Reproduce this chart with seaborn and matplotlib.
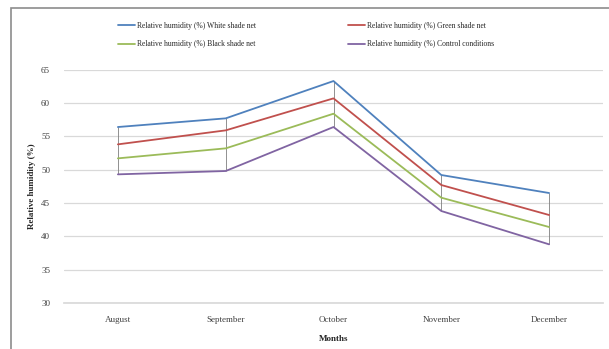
import matplotlib
matplotlib.use("Agg")
import matplotlib.pyplot as plt
import matplotlib.patches as mpatches
import seaborn as sns
import pandas as pd

# values
months = ["August", "September", "October", "November", "December"]
series_names = [
    "Relative humidity (%) White shade net",
    "Relative humidity (%) Green shade net",
    "Relative humidity (%) Black shade net",
    "Relative humidity (%) Control conditions",
]
white_net = [56.4, 57.7, 63.3, 49.2, 46.5]
green_net = [53.8, 55.9, 60.7, 47.7, 43.2]
black_net = [51.7, 53.2, 58.4, 45.8, 41.4]
control = [49.3, 49.8, 56.4, 43.8, 38.8]
y_ticks = [30, 35, 40, 45, 50, 55, 60, 65]
colors = ["#4F81BD", "#C0504D", "#9BBB59", "#8064A2"]


def main():
    sns.set_theme(style="white")
    plt.rcParams["font.family"] = ["Liberation Serif", "DejaVu Serif"]

    rows = []
    for name, vals in zip(series_names, [white_net, green_net, black_net, control]):
        for i, v in enumerate(vals):
            rows.append({"pos": i, "Month": months[i], "series": name, "value": v})
    df = pd.DataFrame(rows)

    fig = plt.figure(figsize=(6.09, 3.49), dpi=100)
    ax = fig.add_axes([64 / 609, 1 - 303 / 349, 539 / 609, (303 - 69.7) / 349])

    # high-low lines between the top and bottom series
    lows = df.groupby("pos")["value"].min()
    highs = df.groupby("pos")["value"].max()
    ax.vlines(lows.index, lows.values, highs.values, color="#7f7f7f", lw=0.6, zorder=2)

    sns.lineplot(data=df, x="pos", y="value", hue="series", hue_order=series_names,
                 palette=colors, lw=1.3, ax=ax, zorder=3)

    ax.set_xlim(-0.5, 4.5)
    ax.set_ylim(30, 65)
    ax.set_yticks(y_ticks)
    ax.set_yticklabels([str(t) for t in y_ticks], fontsize=6.5, color="#404040")
    ax.set_xticks(range(len(months)))
    ax.set_xticklabels(months, fontsize=6.5, color="#404040")
    ax.tick_params(axis="y", pad=10, length=0)
    ax.tick_params(axis="x", pad=9, length=0)
    ax.grid(axis="y", color="#d9d9d9", lw=0.9)
    for s in ["top", "right", "left"]:
        ax.spines[s].set_visible(False)
    ax.spines["bottom"].set_color("#d9d9d9")
    ax.set_xlabel("Months", fontsize=6.5, fontweight="bold", labelpad=8)
    ax.set_ylabel("Relative humidity (%)", fontsize=6.5, fontweight="bold", labelpad=4)

    # legend fills column-wise: reorder so rows read White/Green, Black/Control
    handles, labels = ax.get_legend_handles_labels()
    order = [0, 2, 1, 3]
    ax.legend([handles[i] for i in order], [labels[i] for i in order], ncol=2,
              loc="center left", bbox_to_anchor=(118 / 609, 1 - 35 / 349),
              bbox_transform=fig.transFigure, frameon=False, fontsize=5.5,
              borderpad=0, borderaxespad=0, handlelength=2.2, handletextpad=0.3,
              columnspacing=12, labelspacing=1.4)

    # outer chart frame
    fig.patches.append(mpatches.Rectangle((11 / 609, -0.1), 1.0, 1.1 - 8 / 349,
                                          transform=fig.transFigure, fill=False,
                                          edgecolor="#8c8c8c", lw=1.2))

    fig.savefig("out.png", dpi=100)


if __name__ == "__main__":
    main()
